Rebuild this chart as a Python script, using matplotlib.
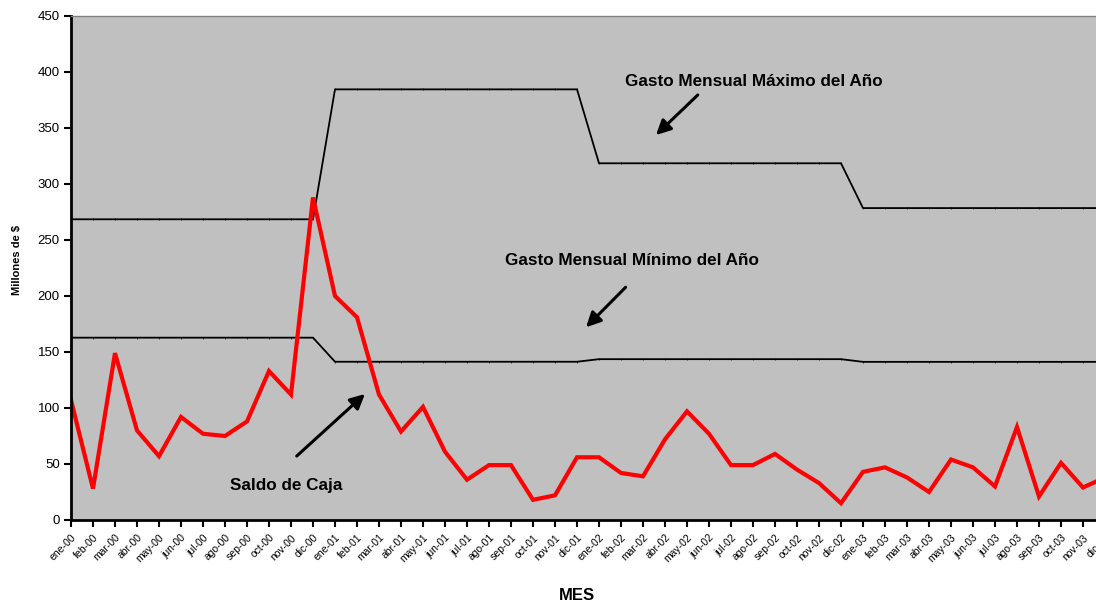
import numpy as np
import matplotlib.pyplot as plt

plt.rcParams['font.family'] = ['Liberation Sans', 'DejaVu Sans']

# Meses ene-00 ... dic-03
meses_nombre = ['ene', 'feb', 'mar', 'abr', 'may', 'jun',
                'jul', 'ago', 'sep', 'oct', 'nov', 'dic']
anios = ['00', '01', '02', '03']
meses = [m + '-' + a for a in anios for m in meses_nombre]

# Saldo de caja (millones de $)
saldo_caja = [107, 28, 149, 80, 57, 92, 77, 75, 88, 133, 112, 288,
              200, 181, 112, 79, 101, 61, 36, 49, 49, 18, 22, 56,
              56, 42, 39, 72, 97, 77, 49, 49, 59, 45, 33, 15,
              43, 47, 38, 25, 54, 47, 30, 83, 21, 51, 29, 38]

# Gasto mensual maximo y minimo de cada año
gasto_max_anual = [268.5, 384.5, 318.5, 278.5]
gasto_min_anual = [162.8, 141.3, 143.6, 141.2]

gasto_max = np.repeat(gasto_max_anual, 12)
gasto_min = np.repeat(gasto_min_anual, 12)
x = np.arange(len(meses))

fig = plt.figure(figsize=(10.96, 6.03), dpi=100)
ax = fig.add_axes([71 / 1096, 1 - 520 / 603, (1105 - 71) / 1096, (520 - 16) / 603])
ax.set_facecolor('#C0C0C0')

ax.plot(x, gasto_max, color='black', lw=1.3, marker='|', ms=2, mew=0.5)
ax.plot(x, gasto_min, color='black', lw=1.3, marker='|', ms=2, mew=0.5)
ax.plot(x, saldo_caja, color='#FF0000', lw=3, solid_joinstyle='miter')

ax.set_xlim(0, len(meses) - 1)
ax.set_ylim(0, 450)
ax.set_yticks(np.arange(0, 451, 50))
ax.set_xticks(x)
ax.set_xticklabels(meses, rotation=45, ha='right', rotation_mode='anchor', fontsize=7.5)
ax.tick_params(axis='y', labelsize=9.5, direction='out', length=5, width=1.5, pad=3)
ax.tick_params(axis='x', direction='out', length=5, width=1.5, pad=4)

for lado in ['left', 'bottom']:
    ax.spines[lado].set_linewidth(2)
    ax.spines[lado].set_color('black')
for lado in ['top', 'right']:
    ax.spines[lado].set_linewidth(1)
    ax.spines[lado].set_color('#808080')

fig.text(17 / 1096, 1 - 260 / 603, 'Millones de $', rotation=90, fontsize=8,
         fontweight='bold', ha='center', va='center')
fig.text(577 / 1096, 1 - 596 / 603, 'MES', fontsize=12, fontweight='bold',
         ha='center', va='center')

flecha = dict(arrowstyle='-|>', mutation_scale=22, lw=2.2, color='black',
              shrinkA=0, shrinkB=0)
ax.annotate('', xy=(26.59, 343.7), xytext=(28.49, 379.5), arrowprops=flecha)
ax.text(31.05, 391.3, 'Gasto Mensual Máximo del Año', fontsize=12.3,
        fontweight='bold', ha='center', va='center')

ax.annotate('', xy=(23.41, 172.1), xytext=(25.21, 207.8), arrowprops=flecha)
ax.text(25.5, 232.1, 'Gasto Mensual Mínimo del Año', fontsize=12.3,
        fontweight='bold', ha='center', va='center')

ax.annotate('', xy=(13.36, 112.5), xytext=(10.26, 57.1), arrowprops=flecha)
ax.text(9.77, 30.4, 'Saldo de Caja', fontsize=12.3, fontweight='bold',
        ha='center', va='center')

fig.savefig('out.png', dpi=100)
